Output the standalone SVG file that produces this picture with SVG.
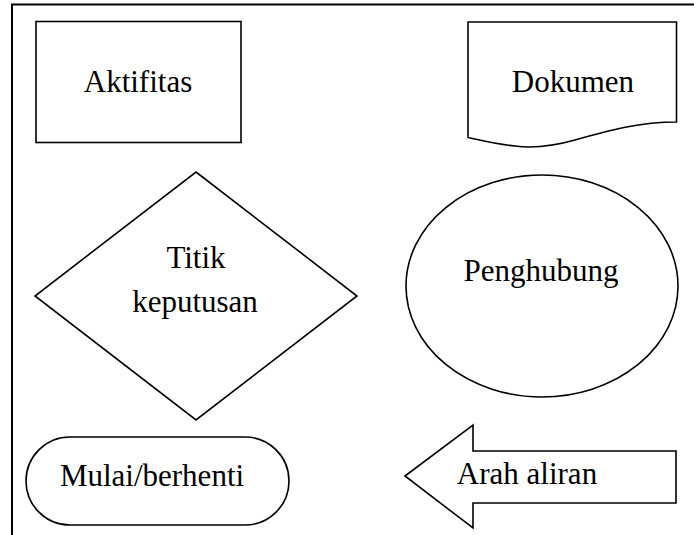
<svg xmlns="http://www.w3.org/2000/svg" width="694" height="535" viewBox="0 0 694 535">
<style>
.s{fill:#fff;stroke:#000;stroke-width:1.6}
.t{font-family:"Liberation Serif","Times New Roman",serif;font-size:31px;fill:#000;text-anchor:middle}
</style>
<rect width="694" height="535" fill="#fff"/>
<g id="border"><path d="M12 535 V4.5 H694" fill="none" stroke="#000" stroke-width="2"/></g>
<g id="aktifitas"><rect class="s" x="36" y="21.5" width="205" height="121" stroke-width="2"/><text class="t" x="138" y="92">Aktifitas</text></g>
<g id="dokumen"><path class="s" d="M468 22 H676.5 V122 C640 122 610 130 575 140 C550 147 530 148 515 146 C495 144 480 140 468 137.5 Z"/><text class="t" x="573" y="92">Dokumen</text></g>
<g id="keputusan"><polygon class="s" points="196,172 357,296 196,420 35,296"/><text class="t" x="196" y="268">Titik</text><text class="t" x="195" y="312">keputusan</text></g>
<g id="penghubung"><ellipse class="s" cx="542" cy="286" rx="136" ry="111"/><text class="t" x="541" y="281">Penghubung</text></g>
<g id="mulai"><rect class="s" x="26" y="437" width="263" height="88" rx="44" ry="44"/><text class="t" x="152" y="486">Mulai/berhenti</text></g>
<g id="arah"><polygon class="s" points="405,476 473,425 473,451 676,451 676,503 473,503 473,528"/><text class="t" x="527" y="484">Arah aliran</text></g>
<g id="connectors"></g>
</svg>
